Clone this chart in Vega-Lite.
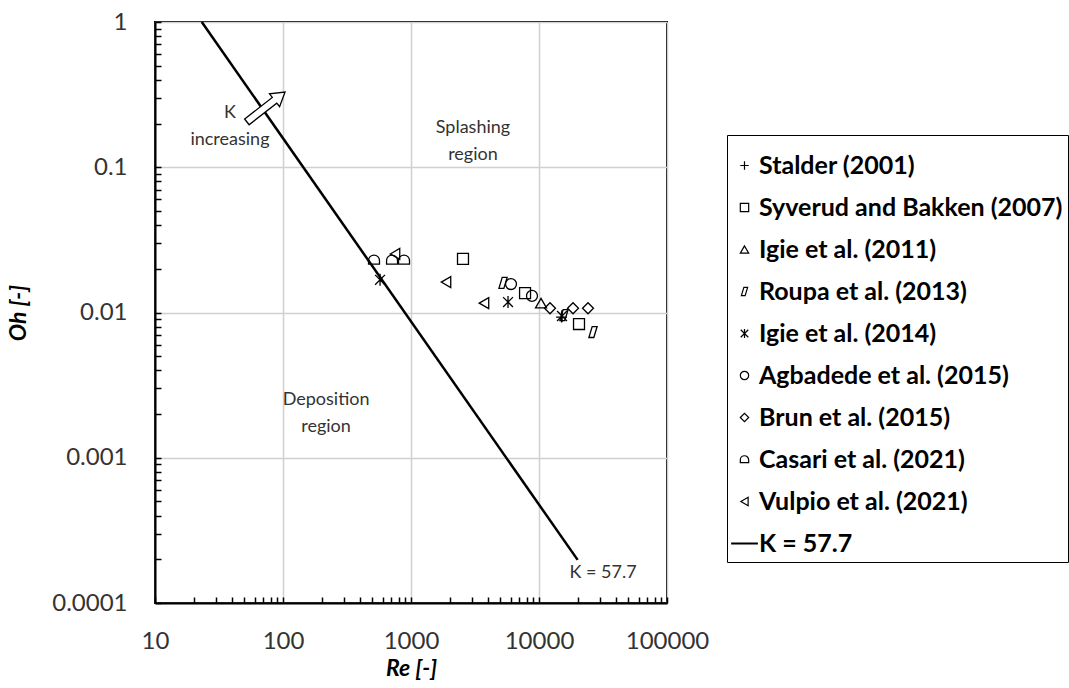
{
  "$schema": "https://vega.github.io/schema/vega-lite/v6.json",
  "width": 512,
  "height": 581,
  "autosize": "none",
  "padding": {"left": 155, "top": 22, "right": 402, "bottom": 85},
  "background": "white",
  "config": {
    "view": {"stroke": "black", "strokeWidth": 2},
    "font": "Lato"
  },
  "datasets": {
    "kline": [
      {"Re": 23.2, "Oh": 1},
      {"Re": 20040, "Oh": 0.000198}
    ],
    "points": [
      {"series": "Stalder (2001)", "Re": 15000, "Oh": 0.0093},
      {"series": "Syverud and Bakken (2007)", "Re": 2548, "Oh": 0.0234},
      {"series": "Syverud and Bakken (2007)", "Re": 7780, "Oh": 0.0136},
      {"series": "Syverud and Bakken (2007)", "Re": 20540, "Oh": 0.00833},
      {"series": "Igie et al. (2011)", "Re": 10370, "Oh": 0.0116},
      {"series": "Roupa et al. (2013)", "Re": 5236, "Oh": 0.016},
      {"series": "Roupa et al. (2013)", "Re": 15680, "Oh": 0.0096},
      {"series": "Roupa et al. (2013)", "Re": 26420, "Oh": 0.00734},
      {"series": "Igie et al. (2014)", "Re": 573, "Oh": 0.0168},
      {"series": "Igie et al. (2014)", "Re": 5728, "Oh": 0.0118},
      {"series": "Igie et al. (2014)", "Re": 15130, "Oh": 0.00946},
      {"series": "Agbadede et al. (2015)", "Re": 6043, "Oh": 0.0157},
      {"series": "Agbadede et al. (2015)", "Re": 8814, "Oh": 0.013},
      {"series": "Brun et al. (2015)", "Re": 12190, "Oh": 0.0107},
      {"series": "Brun et al. (2015)", "Re": 18440, "Oh": 0.0107},
      {"series": "Brun et al. (2015)", "Re": 24150, "Oh": 0.0107},
      {"series": "Casari et al. (2021)", "Re": 514, "Oh": 0.023},
      {"series": "Casari et al. (2021)", "Re": 711, "Oh": 0.023},
      {"series": "Casari et al. (2021)", "Re": 882, "Oh": 0.023},
      {"series": "Vulpio et al. (2021)", "Re": 750, "Oh": 0.0253},
      {"series": "Vulpio et al. (2021)", "Re": 1877, "Oh": 0.0162},
      {"series": "Vulpio et al. (2021)", "Re": 3717, "Oh": 0.0116}
    ],
    "notes": [
      {"note": "K\nincreasing", "Re": 38.5, "Oh": 0.235},
      {"note": "Splashing\nregion", "Re": 3048, "Oh": 0.186},
      {"note": "Deposition\nregion", "Re": 217, "Oh": 0.0025},
      {"note": "K = 57.7", "Re": 31620, "Oh": 0.000161}
    ],
    "arrow": [
      {"Re": 73.6, "Oh": 0.26}
    ]
  },
  "layer": [
    {
      "data": {"name": "kline"},
      "mark": {"type": "line", "color": "black", "strokeWidth": 2.5},
      "encoding": {
        "x": {
          "field": "Re", "type": "quantitative",
          "scale": {"type": "log", "domain": [10, 100000], "nice": false},
          "axis": {
            "title": "Re [-]",
            "titleFont": "Lato", "titleFontSize": 23, "titleFontWeight": "bold", "titleFontStyle": "italic", "titleColor": "black",
            "titlePadding": 4,
            "values": [10,20,30,40,50,60,70,80,90,100,200,300,400,500,600,700,800,900,1000,2000,3000,4000,5000,6000,7000,8000,9000,10000,20000,30000,40000,50000,60000,70000,80000,90000,100000],
            "labelExpr": "abs(log(datum.value)/LN10 - round(log(datum.value)/LN10)) < 1e-6 ? format(datum.value, 'd') : ''",
            "labelFontSize": 24, "labelColor": "#333333", "labelPadding": 32,
            "labelOverlap": false, "labelFlush": false, "labelBound": false,
            "grid": true,
            "gridColor": {"condition": {"test": "abs(log(datum.value)/LN10 - round(log(datum.value)/LN10)) < 1e-6", "value": "#d0d0d0"}, "value": "rgba(0,0,0,0)"},
            "gridWidth": 1.5,
            "ticks": true, "tickSize": -6, "tickColor": "black", "tickWidth": 1.5,
            "domainColor": "black", "domainWidth": 2
          }
        },
        "y": {
          "field": "Oh", "type": "quantitative",
          "scale": {"type": "log", "domain": [0.0001, 1], "nice": false},
          "axis": {
            "title": "Oh [-]",
            "titleFont": "Lato", "titleFontSize": 23, "titleFontWeight": "bold", "titleFontStyle": "italic", "titleColor": "black",
            "titlePadding": 21,
            "values": [0.0001,0.0002,0.0003,0.0004,0.0005,0.0006,0.0007,0.0008,0.0009,0.001,0.002,0.003,0.004,0.005,0.006,0.007,0.008,0.009,0.01,0.02,0.03,0.04,0.05,0.06,0.07,0.08,0.09,0.1,0.2,0.3,0.4,0.5,0.6,0.7,0.8,0.9,1],
            "labelExpr": "abs(log(datum.value)/LN10 - round(log(datum.value)/LN10)) < 1e-6 ? format(datum.value, '') : ''",
            "labelFontSize": 24, "labelColor": "#333333", "labelPadding": 34,
            "labelOverlap": false, "labelFlush": false, "labelBound": false,
            "grid": true,
            "gridColor": {"condition": {"test": "abs(log(datum.value)/LN10 - round(log(datum.value)/LN10)) < 1e-6", "value": "#d0d0d0"}, "value": "rgba(0,0,0,0)"},
            "gridWidth": 1.5,
            "ticks": true, "tickSize": -6, "tickColor": "black", "tickWidth": 1.5,
            "domainColor": "black", "domainWidth": 2
          }
        }
      }
    },
    {
      "data": {"name": "points"},
      "mark": {"type": "point", "filled": false, "color": "black", "strokeWidth": 1.3, "opacity": 1, "size": 120},
      "encoding": {
        "x": {"field": "Re", "type": "quantitative"},
        "y": {"field": "Oh", "type": "quantitative"},
        "shape": {
          "field": "series", "type": "nominal",
          "scale": {
            "domain": ["Stalder (2001)", "Syverud and Bakken (2007)", "Igie et al. (2011)", "Roupa et al. (2013)", "Igie et al. (2014)", "Agbadede et al. (2015)", "Brun et al. (2015)", "Casari et al. (2021)", "Vulpio et al. (2021)", "K = 57.7"],
            "range": ["M-1,0L1,0M0,-1L0,1", "square", "triangle-up", "M-0.75,1L-0.15,-1L0.75,-1L0.15,1Z", "M-0.9,-0.9L0.9,0.9M-0.9,0.9L0.9,-0.9M0,-1.1L0,1.1", "circle", "diamond", "M-1,0.75L-1,0.1A1,1,0,0,1,1,0.1L1,0.75Z", "triangle-left", "M-3.2,-0.12L3.2,-0.12M-3.2,0.12L3.2,0.12"]
          },
          "legend": {
            "orient": "none", "legendX": 572, "legendY": 113,
            "title": " ", "titleFontSize": 8, "titlePadding": 5,
            "padding": 5,
            "strokeColor": "black",
            "labelFont": "Lato", "labelFontSize": 25, "labelFontWeight": "bold", "labelColor": "black", "labelLimit": 600,
            "labelOffset": 2,
            "symbolSize": 70, "symbolStrokeColor": "black", "symbolStrokeWidth": 1.2, "symbolOpacity": 1,
            "symbolOffset": 0,
            "rowPadding": 16
          }
        }
      }
    },
    {
      "data": {"name": "notes"},
      "mark": {"type": "text", "font": "Lato", "fontSize": 18, "color": "#333333", "align": "center", "baseline": "middle", "lineBreak": "\n", "lineHeight": 27},
      "encoding": {
        "x": {"field": "Re", "type": "quantitative"},
        "y": {"field": "Oh", "type": "quantitative"},
        "text": {"field": "note"}
      }
    },
    {
      "data": {"name": "arrow"},
      "mark": {"type": "point", "shape": "M-1,-0.15L0.45,-0.15L0.45,-0.34L1,0L0.45,0.34L0.45,0.15L-1,0.15Z", "size": 2343, "angle": -38, "filled": true, "fill": "white", "stroke": "black", "strokeWidth": 1.3, "opacity": 1},
      "encoding": {
        "x": {"field": "Re", "type": "quantitative"},
        "y": {"field": "Oh", "type": "quantitative"}
      }
    }
  ]
}
